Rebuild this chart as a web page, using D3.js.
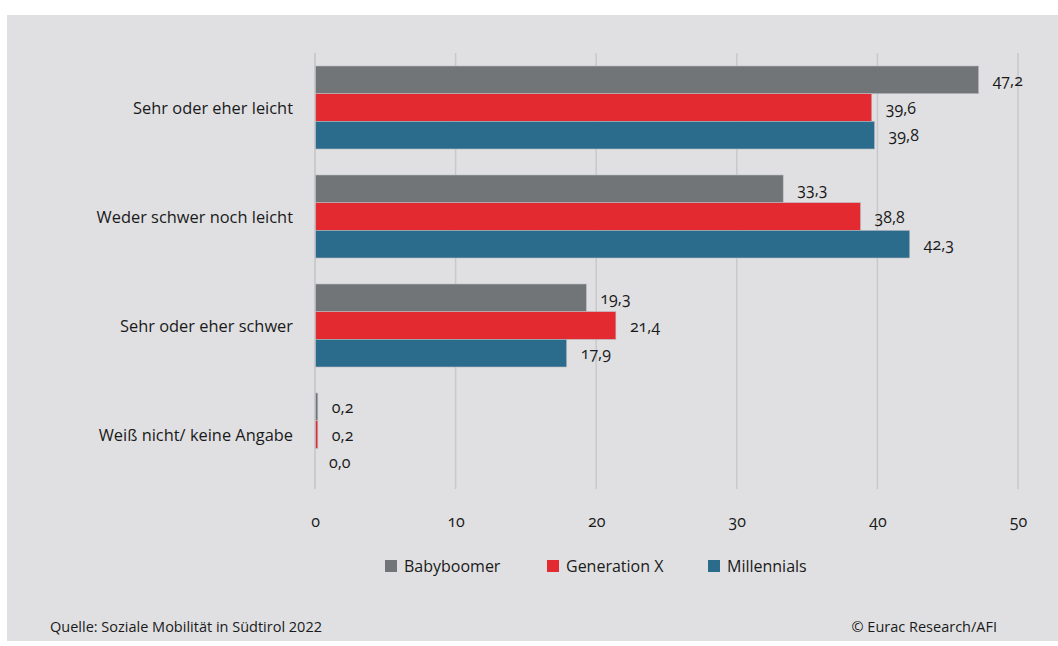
<!DOCTYPE html>
<html><head><meta charset="utf-8">
<script src="https://cdn.jsdelivr.net/npm/d3@7"></script>
<style>
body{margin:0;background:#fff;}
svg{display:block;font-family:"Open Sans","Noto Sans",sans-serif;}
.num{font-variant-numeric:oldstyle-nums;}
</style></head>
<body><svg id="c" width="1058" height="646"></svg>
<script>
const categories = ["Sehr oder eher leicht","Weder schwer noch leicht","Sehr oder eher schwer","Weiß nicht/ keine Angabe"];
const seriesNames = ["Babyboomer","Generation X","Millennials"];
const babyboomer = [47.2, 33.3, 19.3, 0.2];
const generationX = [39.6, 38.8, 21.4, 0.2];
const millennials = [39.8, 42.3, 17.9, 0.0];
const colors = ["#727578","#e42a31","#2b6b8b"];
const xTicks = [0,10,20,30,40,50];
const source = "Quelle: Soziale Mobilität in Südtirol 2022";
const credit = "© Eurac Research/AFI";

const seriesValues = [babyboomer, generationX, millennials];
const svg = d3.select("#c");
svg.append("rect").attr("x",7).attr("y",15).attr("width",1051).attr("height",626).attr("fill","#e0e0e2");

const x = d3.scaleLinear().domain([0,50]).range([315,1018]);
const y0 = d3.scaleBand().domain(categories).range([53,489]).padding(0);
const y1 = d3.scaleBand().domain(seriesNames).range([0,y0.bandwidth()]).paddingInner(0).paddingOuter(0.47);

// gridlines
svg.append("g").selectAll("line").data(xTicks.filter(d=>d>0)).join("line")
  .attr("x1",d=>x(d)).attr("x2",d=>x(d)).attr("y1",53).attr("y2",489)
  .attr("stroke","#c9c9cb").attr("stroke-width",1.5);

const fmt = v => d3.format(".1f")(v).replace(".",",");

const g = svg.append("g");
categories.forEach((c,i)=>{
  seriesNames.forEach((s,j)=>{
    const v = seriesValues[j][i];
    const yy = y0(c)+y1(s);
    if (v>0) g.append("rect").attr("x",x(0)).attr("y",yy).attr("width",x(v)-x(0)).attr("height",y1.bandwidth())
      .attr("fill",colors[j]).attr("stroke","#b9bcc0").attr("stroke-width",0.6);
    g.append("text").attr("class","num").attr("x",x(v)+14).attr("y",yy+y1.bandwidth()/2+6)
      .attr("font-size",16).attr("fill","#1a1a1a").text(fmt(v));
  });
});

// zero axis line
svg.append("line").attr("x1",x(0)).attr("x2",x(0)).attr("y1",53).attr("y2",489).attr("stroke","#c4c4c6").attr("stroke-width",1.5);

// category labels
svg.append("g").selectAll("text").data(categories).join("text")
  .attr("x",293).attr("y",d=>y0(d)+y0.bandwidth()/2+6).attr("text-anchor","end")
  .attr("font-size",16.4).attr("fill","#1a1a1a").text(d=>d);

// x axis
const xAxis = d3.axisBottom(x).tickValues(xTicks).tickSize(0).tickPadding(0).tickFormat(d=>String(d));
const ax = svg.append("g").attr("transform","translate(0,516)").call(xAxis);
ax.select(".domain").remove();
ax.selectAll("text").attr("class","num").attr("font-size",16).attr("fill","#1a1a1a").attr("font-family","\"Open Sans\",\"Noto Sans\",sans-serif");

// legend
const legX = [385,547,708];
const leg = svg.append("g");
seriesNames.forEach((s,j)=>{
  leg.append("rect").attr("x",legX[j]).attr("y",560).attr("width",12).attr("height",12).attr("fill",colors[j]);
  leg.append("text").attr("x",legX[j]+19).attr("y",572).attr("font-size",16).attr("fill","#1a1a1a").text(s);
});

svg.append("text").attr("x",50).attr("y",632).attr("font-size",14.5).attr("fill","#1a1a1a").text(source);
svg.append("text").attr("x",997).attr("y",632).attr("text-anchor","end").attr("font-size",14.5).attr("fill","#1a1a1a").text(credit);
</script></body></html>
